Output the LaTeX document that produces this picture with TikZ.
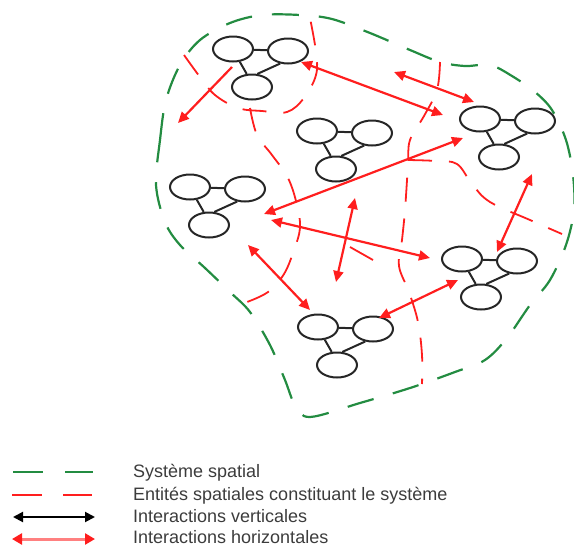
\documentclass[tikz,border=0pt]{standalone}
\usepackage{fontspec}
\setmainfont{Liberation Sans}
\usetikzlibrary{arrows.meta,shapes.geometric}
\definecolor{gsys}{RGB}{35,140,65}
\definecolor{rent}{RGB}{255,30,30}
\definecolor{txt}{RGB}{60,60,60}
\begin{document}
\begin{tikzpicture}[x=1pt,y=-1pt,
  ell/.style={draw=black!85, ellipse, line width=2pt, minimum width=40pt, minimum height=25pt, inner sep=0pt},
  bond/.style={draw=black!85, line width=2pt},
  mol/.pic={
    \node[ell] (-a) at (0,0) {};
    \node[ell] (-b) at (55,2) {};
    \node[ell] (-c) at (19,38) {};
    \draw[bond] (-a) -- (-b);
    \draw[bond] (-a.-62) -- (-c.112);
    \draw[bond] (-b.238) -- (-c.68);
  },
  sysline/.style={draw=gsys, line width=2.2pt, dash pattern=on 27pt off 20pt},
  entline/.style={draw=rent, line width=1.8pt, dash pattern=on 24pt off 17pt},
  inter/.style={draw=rent, line width=2.2pt, {Triangle[length=11pt,width=10pt]}-{Triangle[length=11pt,width=10pt]}},
  inter1/.style={draw=rent, line width=2.2pt, -{Triangle[length=11pt,width=10pt]}},
  leg/.style={anchor=base west, text=txt, font=\fontsize{18}{20}\selectfont, inner sep=0pt}
]
\useasboundingbox (0,0) rectangle (574,547);

% spatial system (green)
\draw[sysline] plot[smooth cycle, tension=0.55] coordinates {
 (156,185) (160,140) (166,100) (180,65) (200,40) (230,23) (262,15) (300,15) (332,19)
 (370,33) (410,50) (440,62) (465,66) (490,65) (512,76) (535,92) (552,110) (566,140)
 (573,175) (574,210) (566,245) (550,280) (530,305) (507,338) (485,360) (455,372)
 (410,388) (360,403) (310,417) (295,405) (285,380) (270,345) (250,312) (230,292)
 (205,268) (180,245) (165,222)};

% spatial entities (red)
\draw[entline] plot[smooth, tension=0.6] coordinates {
 (184,55) (200,77) (215,95) (238,108) (262,111) (287,112) (304,98) (316,75) (316,52) (310,18)};
\draw[entline] plot[smooth, tension=0.6] coordinates {
 (250,108) (257,135) (272,155) (288,178) (297,205) (300,228) (294,250) (284,274) (268,292) (247,302)};
\draw[entline] plot[smooth, tension=0.6] coordinates {
 (440,62) (437,90) (424,116) (410,140) (408,165) (405,210) (402,240) (399,266) (409,292) (418,322) (422,355) (422,384)};
\draw[entline] plot[smooth, tension=0.6] coordinates {
 (408,160) (436,161) (457,164) (472,184) (490,202) (530,220) (562,234)};
\draw[rent, line width=1.8pt] (350,247) -- (373,260);

% molecules
\pic (m1) at (233,49) {mol};
\pic (m2) at (317,131) {mol};
\pic (m3) at (480,119) {mol};
\pic (m4) at (190,187) {mol};
\pic (m5) at (462,259) {mol};
\pic (m6) at (318,327) {mol};

% horizontal interactions
\coordinate (a1s) at (232,67);  \coordinate (a1e) at (178,123);
\coordinate (a2s) at (301,62);  \coordinate (a2e) at (443,115);
\coordinate (a3s) at (394,72);  \coordinate (a3e) at (474,102);
\coordinate (a4s) at (264,214); \coordinate (a4e) at (463,138);
\coordinate (a5s) at (271,220); \coordinate (a5e) at (430,258);
\coordinate (a6s) at (355,198); \coordinate (a6e) at (336,282);
\coordinate (a7s) at (248,245); \coordinate (a7e) at (310,310);
\coordinate (a8s) at (379,318); \coordinate (a8e) at (458,280);
\coordinate (a9s) at (532,174); \coordinate (a9e) at (497,252);
\draw[inter1] (a1s) -- (a1e);
\draw[inter] (a2s) -- (a2e);
\draw[inter] (a3s) -- (a3e);
\draw[inter] (a4s) -- (a4e);
\draw[inter] (a5s) -- (a5e);
\draw[inter] (a6s) -- (a6e);
\draw[inter] (a7s) -- (a7e);
\draw[inter] (a8s) -- (a8e);
\draw[inter] (a9s) -- (a9e);

% legend
\coordinate (l1a) at (13,472); \coordinate (l1b) at (93,472);
\draw[sysline, dash pattern=on 30pt off 22pt] (l1a) -- (l1b);
\coordinate (l2a) at (12,495); \coordinate (l2b) at (92,495);
\draw[entline, dash pattern=on 30pt off 21pt] (l2a) -- (l2b);
\coordinate (l3a) at (13,517); \coordinate (l3b) at (95,517);
\draw[black, line width=2pt, {Triangle[length=10pt,width=10pt]}-{Triangle[length=10pt,width=10pt]}] (l3a) -- (l3b);
\coordinate (l4a) at (12,539); \coordinate (l4b) at (95,539);
\draw[red!50, line width=3pt, {Triangle[length=10pt,width=11pt,color=rent]}-{Triangle[length=10pt,width=11pt,color=rent]}] (l4a) -- (l4b);

\node[leg] (t1) at (133,477) {Système spatial};
\node[leg] (t2) at (133,500) {Entités spatiales constituant le système};
\node[leg] (t3) at (133,522) {Interactions verticales};
\node[leg] (t4) at (133,543) {Interactions horizontales};
\end{tikzpicture}
\end{document}
